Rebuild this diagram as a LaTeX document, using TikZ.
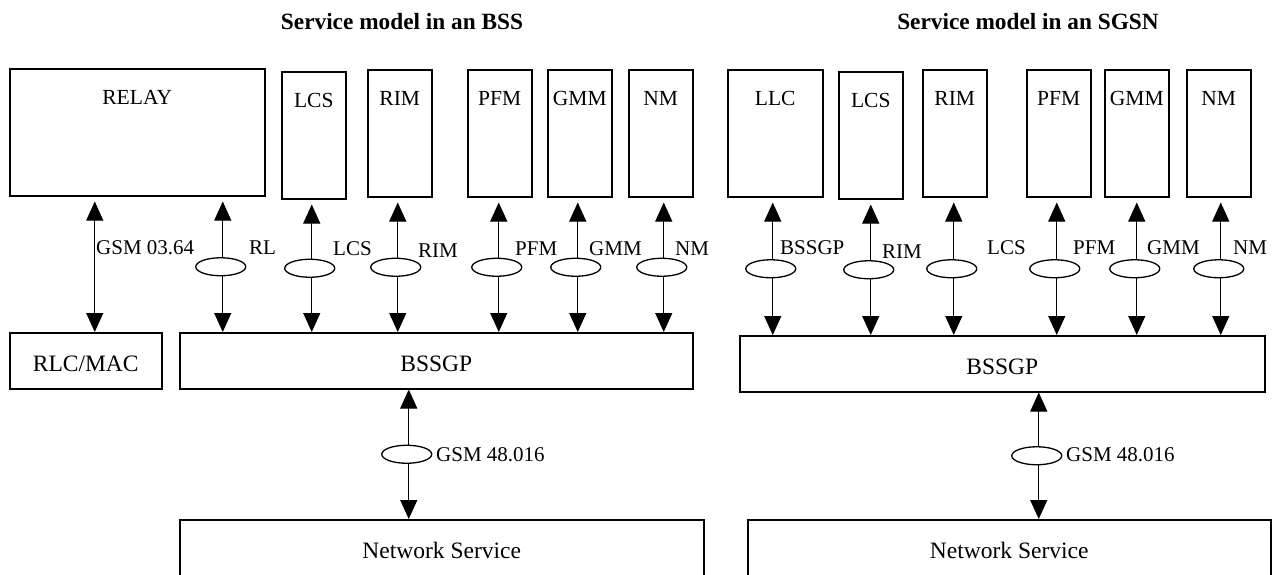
\documentclass[tikz,border=0pt]{standalone}
\usepackage{fontspec}
\setmainfont{Liberation Serif}
\usetikzlibrary{shapes,shapes.geometric,arrows.meta,calc,positioning}

\newcommand\topfont{\fontsize{21.5}{25}\selectfont}
\newcommand\lowfont{\fontsize{23.5}{27}\selectfont}
\newcommand\lblfont{\fontsize{21}{25}\selectfont}

\tikzset{
  module/.style={draw, line width=1.5pt, anchor=north west, inner sep=0pt,
    minimum width=64pt, text height=36pt, text depth=91pt, font=\topfont},
  layer/.style={draw, line width=1.5pt, anchor=north west, inner sep=0pt,
    text height=39pt, text depth=17pt, font=\lowfont},
  link/.style={{Triangle[length=19pt,width=17pt]}-{Triangle[length=19pt,width=17pt]}, line width=1pt},
  ring/.style={ellipse, draw, fill=white, line width=1.3pt, inner sep=0pt,
    minimum width=50pt, minimum height=18pt, xshift=-2pt},
  lbl/.style={anchor=base west, inner sep=0pt, font=\lblfont},
  head/.style={anchor=base, inner sep=0pt, font=\fontsize{23.3}{27}\selectfont\bfseries}
}

\begin{document}
\begin{tikzpicture}[x=1pt, y=-1pt]
  \useasboundingbox (0,0) rectangle (1274,574);
  \clip (0,0) rectangle (1274,574);

  % titles
  \node[head] (tA) at (402,29) {Service model in an BSS};
  \node[head] (tB) at (1028,29) {Service model in an SGSN};

  % BSS side
  \node[module, minimum width=255pt] (relay) at (9,68) {RELAY};
  \node[module] (lcsA) at (281,71) {LCS};
  \node[module] (rimA) at (367,69) {RIM};
  \node[module] (pfmA) at (467,69) {PFM};
  \node[module] (gmmA) at (547,69) {GMM};
  \node[module] (nmA) at (628,69) {NM};
  \node[layer, minimum width=152pt] (rlcmac) at (9,332) {RLC/MAC};
  \node[layer, minimum width=513pt] (bssgpA) at (179,332) {BSSGP};
  \node[layer, minimum width=524pt, text depth=80pt] (nsA) at (179,519) {Network Service};

  % SGSN side
  \node[module, minimum width=95pt] (llc) at (727,69) {LLC};
  \node[module] (lcsB) at (838,71) {LCS};
  \node[module] (rimB) at (922,69) {RIM};
  \node[module] (pfmB) at (1026,69) {PFM};
  \node[module] (gmmB) at (1104,69) {GMM};
  \node[module] (nmB) at (1186,69) {NM};
  \node[layer, minimum width=525pt] (bssgpB) at (739,335) {BSSGP};
  \node[layer, minimum width=523pt, text depth=80pt] (nsB) at (747,519) {Network Service};

  % BSS side connectors
  \draw[link] ([xshift=-42.5pt, yshift=-5pt]relay.south) -- ([xshift=-42.5pt]relay.south |- rlcmac.north);
  \draw[link] ([xshift=85.5pt, yshift=-5pt]relay.south) -- ([xshift=85.5pt]relay.south |- bssgpA.north) node[ring, midway] (oRL) {};
  \draw[link] ([xshift=-2pt, yshift=-5pt]lcsA.south) -- ([xshift=-2pt]lcsA.south |- bssgpA.north) node[ring, midway] (oLcsA) {};
  \draw[link] ([xshift=-2pt, yshift=-5pt]rimA.south) -- ([xshift=-2pt]rimA.south |- bssgpA.north) node[ring, midway] (oRimA) {};
  \draw[link] ([xshift=-1pt, yshift=-5pt]pfmA.south) -- ([xshift=-1pt]pfmA.south |- bssgpA.north) node[ring, midway] (oPfmA) {};
  \draw[link] ([xshift=-2pt, yshift=-5pt]gmmA.south) -- ([xshift=-2pt]gmmA.south |- bssgpA.north) node[ring, midway] (oGmmA) {};
  \draw[link] ([xshift=3pt, yshift=-5pt]nmA.south) -- ([xshift=3pt]nmA.south |- bssgpA.north) node[ring, midway] (oNmA) {};
  \draw[link] ([xshift=-27.5pt]bssgpA.south) -- ([xshift=-27.5pt]bssgpA.south |- nsA.north) node[ring, midway] (oNsA) {};

  % SGSN side connectors
  \draw[link] ([xshift=-2.5pt, yshift=-5pt]llc.south) -- ([xshift=-2.5pt]llc.south |- bssgpB.north) node[ring, midway] (oLlc) {};
  \draw[link] ([yshift=-5pt]lcsB.south) -- (lcsB.south |- bssgpB.north) node[ring, midway] (oLcsB) {};
  \draw[link] ([xshift=-1pt, yshift=-5pt]rimB.south) -- ([xshift=-1pt]rimB.south |- bssgpB.north) node[ring, midway] (oRimB) {};
  \draw[link] ([xshift=-2pt, yshift=-5pt]pfmB.south) -- ([xshift=-2pt]pfmB.south |- bssgpB.north) node[ring, midway] (oPfmB) {};
  \draw[link] ([yshift=-5pt]gmmB.south) -- (gmmB.south |- bssgpB.north) node[ring, midway] (oGmmB) {};
  \draw[link] ([xshift=2pt, yshift=-5pt]nmB.south) -- ([xshift=2pt]nmB.south |- bssgpB.north) node[ring, midway] (oNmB) {};
  \draw[link] ([xshift=36.5pt]bssgpB.south) -- ([xshift=36.5pt]bssgpB.south |- nsB.north) node[ring, midway] (oNsB) {};

  % labels
  \node[lbl] (lGsmA) at (96,254) {GSM 03.64};
  \node[lbl] (lRL) at (249,254) {RL};
  \node[lbl] (lLcsA) at (333,255) {LCS};
  \node[lbl] (lRimA) at (418,257) {RIM};
  \node[lbl] (lPfmA) at (515,255) {PFM};
  \node[lbl] (lGmmA) at (589,255) {GMM};
  \node[lbl] (lNmA) at (675,255) {NM};
  \node[lbl] (lNsA) at (436,461) {GSM 48.016};

  \node[lbl] (lBssgp) at (780,254) {BSSGP};
  \node[lbl] (lRimB) at (882,258) {RIM};
  \node[lbl] (lLcsB) at (987,254) {LCS};
  \node[lbl] (lPfmB) at (1073,254) {PFM};
  \node[lbl] (lGmmB) at (1147,254) {GMM};
  \node[lbl] (lNmB) at (1233,254) {NM};
  \node[lbl] (lNsB) at (1066,461) {GSM 48.016};
\end{tikzpicture}
\end{document}
